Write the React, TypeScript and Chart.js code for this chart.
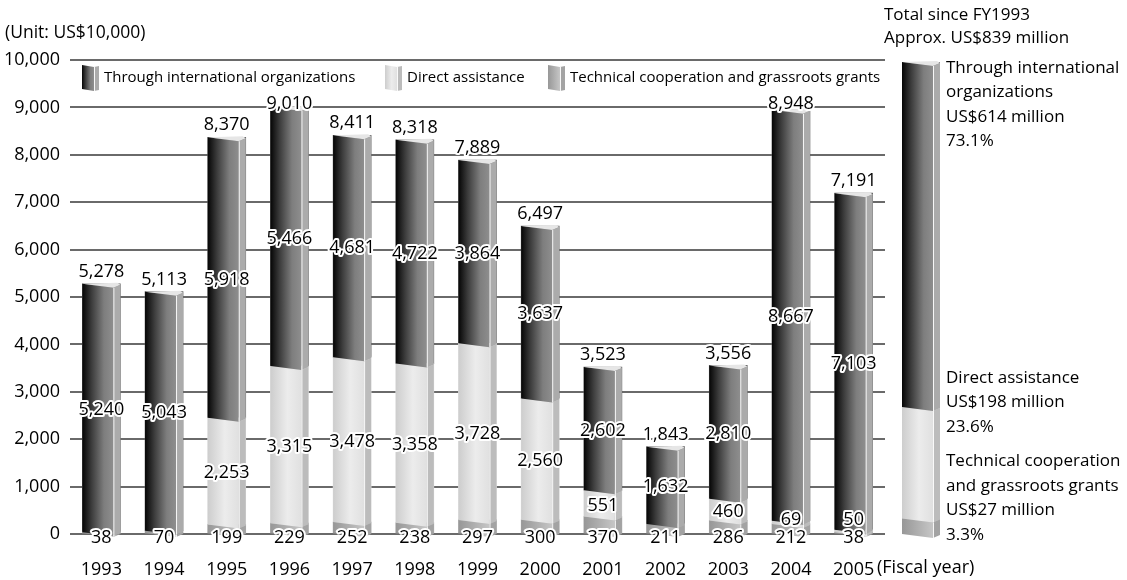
import React, { useEffect, useRef } from "react";
import { Chart, registerables } from "chart.js";

Chart.register(...registerables);

// ---------- data ----------
const years = ["1993", "1994", "1995", "1996", "1997", "1998", "1999", "2000", "2001", "2002", "2003", "2004", "2005"];
const techGrants = [38, 70, 199, 229, 252, 238, 297, 300, 370, 211, 286, 212, 38];
const directAssistance = [0, 0, 2253, 3315, 3478, 3358, 3728, 2560, 551, 0, 460, 69, 50];
const intlOrgs = [5240, 5043, 5918, 5466, 4681, 4722, 3864, 3637, 2602, 1632, 2810, 8667, 7103];
const totals = [5278, 5113, 8370, 9010, 8411, 8318, 7889, 6497, 3523, 1843, 3556, 8948, 7191];
const seriesNames = [
  "Technical cooperation and grassroots grants",
  "Direct assistance",
  "Through international organizations",
];
const legendOrder = [2, 1, 0];
const yMin = 0;
const yMax = 10000;
const yStep = 1000;
const unitLabel = "(Unit: US$10,000)";
const xAxisNote = "(Fiscal year)";

const summaryShares = [3.3, 23.6, 73.1];
const summaryTitle = ["Total since FY1993", "Approx. US$839 million"];
const summaryIntl = ["Through international", "organizations", "US$614 million", "73.1%"];
const summaryDirect = ["Direct assistance", "US$198 million", "23.6%"];
const summaryTech = ["Technical cooperation", "and grassroots grants", "US$27 million", "3.3%"];

// ---------- styles ----------
const FONT = '"Open Sans", "DejaVu Sans", sans-serif';
type Style = { stops: [number, string][]; side: string; flat: string };
const STYLES: Style[] = [
  { stops: [[0, "#979797"], [1, "#c6c6c6"]], side: "#a3a3a3", flat: "#b0b0b0" },
  { stops: [[0, "#cdcdcd"], [0.55, "#ececec"], [1, "#e0e0e0"]], side: "#bcbcbc", flat: "#e0e0e0" },
  { stops: [[0, "#050505"], [0.3, "#3c3c3c"], [0.7, "#7e7e7e"], [1, "#8e8e8e"]], side: "#ababab", flat: "#666666" },
];
const SIDE = 7;
const SLANT = 4;

function prism(ctx: CanvasRenderingContext2D, xl: number, xr: number, y: number, base: number, st: Style, top: boolean, side = SIDE, d = SLANT) {
  const xm = xr - side;
  const g = ctx.createLinearGradient(xl, 0, xm, 0);
  st.stops.forEach(([o, c]) => g.addColorStop(o, c));
  ctx.fillStyle = g;
  ctx.beginPath();
  ctx.moveTo(xl, y);
  ctx.lineTo(xm, y + d);
  ctx.lineTo(xm, base + d);
  ctx.lineTo(xl, base);
  ctx.closePath();
  ctx.fill();
  ctx.fillStyle = st.side;
  ctx.beginPath();
  ctx.moveTo(xm, y + d);
  ctx.lineTo(xr, y + 1);
  ctx.lineTo(xr, base + 1);
  ctx.lineTo(xm, base + d);
  ctx.closePath();
  ctx.fill();
  ctx.strokeStyle = "rgba(255,255,255,0.9)";
  ctx.lineWidth = 1;
  ctx.beginPath();
  ctx.moveTo(xm + 0.5, y + d);
  ctx.lineTo(xm + 0.5, base + d);
  ctx.stroke();
  if (top) {
    ctx.fillStyle = "#e6e6e6";
    ctx.beginPath();
    ctx.moveTo(xl, y);
    ctx.lineTo(xr - 3, y - 1);
    ctx.lineTo(xr, y + 1);
    ctx.lineTo(xm, y + d);
    ctx.closePath();
    ctx.fill();
  }
}

function haloText(ctx: CanvasRenderingContext2D, text: string, x: number, y: number) {
  ctx.save();
  ctx.font = `18px ${FONT}`;
  ctx.textAlign = "center";
  ctx.textBaseline = "middle";
  ctx.lineJoin = "round";
  ctx.lineWidth = 4;
  ctx.strokeStyle = "#ffffff";
  ctx.strokeText(text, x, y);
  ctx.fillStyle = "#000000";
  ctx.fillText(text, x, y);
  ctx.restore();
}

const fmt = (v: number) => v.toLocaleString("en-US");

function drawPrisms(chart: any) {
  const ctx: CanvasRenderingContext2D = chart.ctx;
  const n = chart.data.labels.length;
  const tops: number[] = [];
  for (let i = 0; i < n; i++) {
    let t = -1;
    chart.data.datasets.forEach((ds: any, di: number) => {
      if (ds.data[i] > 0) t = di;
    });
    tops.push(t);
  }
  chart.data.datasets.forEach((ds: any, di: number) => {
    const meta = chart.getDatasetMeta(di);
    meta.data.forEach((el: any, i: number) => {
      if (!(ds.data[i] > 0)) return;
      const p = el.getProps(["x", "y", "base", "width"], true);
      prism(ctx, p.x - p.width / 2, p.x + p.width / 2, p.y, p.base, STYLES[di], tops[i] === di);
    });
  });
}

const mainPlugin = {
  id: "mainDeco",
  afterDatasetsDraw(chart: any) {
    const ctx: CanvasRenderingContext2D = chart.ctx;
    drawPrisms(chart);
    const area = chart.chartArea;
    const yScale = chart.scales.y;
    const techY = yScale.getPixelForValue(0) + 4;
    // segment labels
    chart.data.datasets.forEach((ds: any, di: number) => {
      const meta = chart.getDatasetMeta(di);
      meta.data.forEach((el: any, i: number) => {
        const v = ds.data[i];
        if (!(v > 0)) return;
        const p = el.getProps(["x", "y", "base"], true);
        if (di === 0) haloText(ctx, fmt(v), p.x, techY);
        else haloText(ctx, fmt(v), p.x, Math.min((p.y + p.base) / 2 + 2, techY - 18));
      });
    });
    // totals
    const xScale = chart.scales.x;
    totals.forEach((t, i) => {
      const x = xScale.getPixelForValue(i);
      const y = Math.max(yScale.getPixelForValue(t) - 12, area.top + 44);
      haloText(ctx, fmt(t), x, y);
    });
  },
  afterDraw(chart: any) {
    const ctx: CanvasRenderingContext2D = chart.ctx;
    ctx.save();
    ctx.fillStyle = "#000";
    ctx.font = `17.5px ${FONT}`;
    ctx.textBaseline = "middle";
    ctx.textAlign = "left";
    ctx.fillText(unitLabel, 5, 33);
    ctx.font = `18px ${FONT}`;
    ctx.fillText(xAxisNote, 877, 568);
    // legend
    const lx = [82, 385, 548];
    ctx.font = `15px ${FONT}`;
    legendOrder.forEach((di, k) => {
      prism(ctx, lx[k], lx[k] + 17, 65, 89, STYLES[di], false, 5, 2);
      ctx.fillStyle = "#000";
      ctx.fillText(seriesNames[di], lx[k] + 22, 78);
    });
    ctx.restore();
  },
};

const summaryPlugin = {
  id: "summaryDeco",
  afterDatasetsDraw(chart: any) {
    drawPrisms(chart);
  },
  afterDraw(chart: any) {
    const ctx: CanvasRenderingContext2D = chart.ctx;
    const y = chart.scales.y;
    const lh = 24.5;
    ctx.save();
    ctx.fillStyle = "#000";
    ctx.textBaseline = "middle";
    ctx.textAlign = "left";
    ctx.font = `17px ${FONT}`;
    summaryTitle.forEach((t, k) => ctx.fillText(t, 884, 15 + k * 23));
    const tx = 946;
    const y1 = y.getPixelForValue(100) + 6;
    summaryIntl.forEach((t, k) => ctx.fillText(t, tx, y1 + k * lh));
    const y2 = y.getPixelForValue(summaryShares[0] + summaryShares[1]) + 20 - (summaryDirect.length - 1) * lh;
    summaryDirect.forEach((t, k) => ctx.fillText(t, tx, y2 + k * lh));
    const y3 = y.getPixelForValue(0) + 1 - (summaryTech.length - 1) * lh;
    summaryTech.forEach((t, k) => ctx.fillText(t, tx, y3 + k * lh));
    ctx.restore();
  },
};

export default function App() {
  const mainRef = useRef<HTMLCanvasElement>(null);
  const sumRef = useRef<HTMLCanvasElement>(null);

  useEffect(() => {
    const series = [techGrants, directAssistance, intlOrgs];
    const main = new Chart(mainRef.current!, {
      type: "bar",
      data: {
        labels: years,
        datasets: series.map((d, i) => ({
          label: seriesNames[i],
          data: d,
          backgroundColor: STYLES[i].flat,
          barThickness: 38,
          borderWidth: 0,
        })),
      },
      options: {
        responsive: false,
        animation: false,
        devicePixelRatio: 1,
        layout: { padding: { left: 4, right: 242, top: 60, bottom: 0 } },
        plugins: { legend: { display: false }, tooltip: { enabled: false } },
        scales: {
          x: {
            stacked: true,
            grid: { display: false, drawTicks: false },
            border: { display: false },
            ticks: { color: "#000", font: { family: FONT, size: 18 }, padding: 25, maxRotation: 0, autoSkip: false },
            afterFit: (s: any) => {
              s.height = 46;
            },
          },
          y: {
            stacked: true,
            min: yMin,
            max: yMax,
            ticks: {
              stepSize: yStep,
              color: "#000",
              font: { family: FONT, size: 18 },
              padding: 10,
              callback: (v: any) => fmt(Number(v)),
            },
            grid: { color: "#6a6a6a", lineWidth: 2, drawTicks: false },
            border: { display: false },
            afterFit: (s: any) => {
              s.width = 66;
            },
          },
        },
      } as any,
      plugins: [mainPlugin],
    });

    const summary = new Chart(sumRef.current!, {
      type: "bar",
      data: {
        labels: ["Total"],
        datasets: summaryShares.map((v, i) => ({
          label: seriesNames[i],
          data: [v],
          backgroundColor: STYLES[i].flat,
          barThickness: 38,
          borderWidth: 0,
        })),
      },
      options: {
        responsive: false,
        animation: false,
        devicePixelRatio: 1,
        layout: { padding: { left: 902, right: 187, top: 62, bottom: 46 } },
        plugins: { legend: { display: false }, tooltip: { enabled: false } },
        scales: {
          x: { stacked: true, display: false },
          y: { stacked: true, display: false, min: 0, max: 100 },
        },
      } as any,
      plugins: [summaryPlugin],
    });

    return () => {
      main.destroy();
      summary.destroy();
    };
  }, []);

  return (
    <div style={{ position: "fixed", left: 0, top: 0, width: 1127, height: 580, background: "#fff" }}>
      <canvas ref={mainRef} width={1127} height={580} style={{ position: "absolute", left: 0, top: 0 }} />
      <canvas ref={sumRef} width={1127} height={580} style={{ position: "absolute", left: 0, top: 0, pointerEvents: "none" }} />
    </div>
  );
}
